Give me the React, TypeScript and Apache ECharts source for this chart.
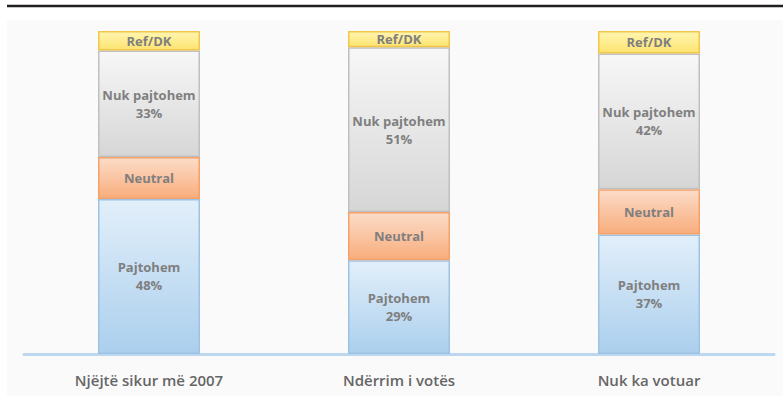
import React, { useEffect, useRef } from "react";
import * as echarts from "echarts";

const categories = ["Njëjtë sikur më 2007", "Ndërrim i votës", "Nuk ka votuar"];
const pajtohem = [48, 29, 37];
const neutral = [13, 15, 14];
const nukPajtohem = [33, 51, 42];
const refDK = [6, 5, 7];

const grad = (a: string, b: string) =>
  new echarts.graphic.LinearGradient(0, 0, 0, 1, [
    { offset: 0, color: a },
    { offset: 1, color: b },
  ]);

const labelStyle = {
  show: true,
  position: "inside" as const,
  color: "#7f7f7f",
  fontFamily: "Open Sans",
  fontWeight: "bold" as const,
  fontSize: 13,
  lineHeight: 18,
};

export default function App() {
  const ref = useRef<HTMLDivElement>(null);
  useEffect(() => {
    document.body.style.margin = "0";
    const chart = echarts.init(ref.current!, null, { renderer: "svg" });
    const mk = (
      name: string,
      data: number[],
      c1: string,
      c2: string,
      border: string,
      withPct: boolean
    ) => ({
      name,
      type: "bar",
      stack: "s",
      barWidth: 102,
      data,
      itemStyle: { color: grad(c1, c2), borderColor: border, borderWidth: 1.5 },
      label: {
        ...labelStyle,
        formatter: (p: any) => (withPct ? `${name}\n${p.value}%` : name),
      },
    });
    chart.setOption({
      animation: false,
      backgroundColor: "#ffffff",
      graphic: [
        { type: "rect", shape: { x: 7, y: 20, width: 776, height: 376 }, style: { fill: "#fafafa" }, z: -10 },
        { type: "line", shape: { x1: 7, y1: 6, x2: 783, y2: 6 }, style: { stroke: "#231f20", lineWidth: 2.5 } },
      ],
      grid: { left: 24, right: 9, top: 31, bottom: 49 },
      xAxis: {
        type: "category",
        data: categories,
        axisLine: { show: true, lineStyle: { color: "#bdd7ee", width: 3 } },
        axisTick: { show: false },
        axisLabel: {
          color: "#666666",
          fontFamily: "Open Sans",
          fontWeight: 600,
          fontSize: 15,
          margin: 18,
        },
      },
      yAxis: { type: "value", min: 0, max: 100, show: false, splitLine: { show: false } },
      series: [
        mk("Pajtohem", pajtohem, "#e2effa", "#abcfed", "#9cc3e6", true),
        mk("Neutral", neutral, "#fcdcc8", "#f8ad7c", "#f4a26a", false),
        mk("Nuk pajtohem", nukPajtohem, "#f7f7f7", "#d6d6d6", "#c0c0c0", true),
        mk("Ref/DK", refDK, "#fff5b0", "#fde470", "#f2c64a", false),
      ],
    });
    return () => chart.dispose();
  }, []);
  return <div ref={ref} style={{ width: 783, height: 403 }} />;
}
